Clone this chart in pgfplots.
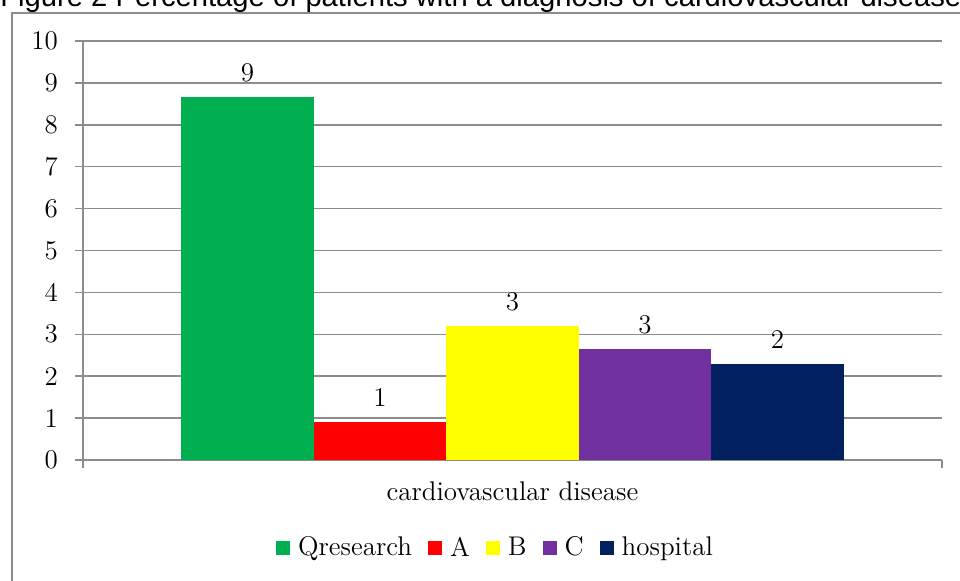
\documentclass[border=0pt]{standalone}
\usepackage{pgfplots}
\pgfplotsset{compat=1.18}
\usepackage{fontspec}
\newfontfamily\titlefont{Liberation Sans}
\definecolor{gridgray}{HTML}{8C8C8C}
\definecolor{qgreen}{HTML}{00B050}
\definecolor{ared}{HTML}{FF0000}
\definecolor{byellow}{HTML}{FFFF00}
\definecolor{cpurple}{HTML}{7030A0}
\definecolor{hnavy}{HTML}{002060}
\newcommand\chartfont{\fontsize{13.5}{16}\selectfont}

\begin{document}
\begin{tikzpicture}
% page = 960x581 px, 1px = 0.5pt, origin at the axis corner (83,460)
\useasboundingbox (-41.5pt,-60.5pt) rectangle (438.5pt,230pt);
\clip (-41.5pt,-60.5pt) rectangle (438.5pt,230pt);
\draw[gridgray, line width=0.75pt] (-35.5pt,-80pt) -- (-35.5pt,223.5pt) -- (460pt,223.5pt);
\node[anchor=base west, inner sep=0, font=\titlefont\fontsize{14.6}{17}\selectfont]
  at (-41.5pt,226.5pt) {Figure 2 Percentage of patients with a diagnosis of cardiovascular disease};
\begin{axis}[
  width=429.5pt, height=209.5pt, scale only axis,
  xmin=0, xmax=1, ymin=0, ymax=10,
  ybar=0pt, bar width=66.25pt,
  axis x line*=bottom, axis y line*=left,
  axis line style={gridgray, line width=0.75pt},
  ytick={0,1,...,10}, ymajorgrids,
  grid style={gridgray, line width=0.75pt},
  tick align=outside, major tick length=4pt,
  tick style={gridgray, line width=0.75pt},
  /pgf/number format/assume math mode=true,
  xtick={0,1}, xticklabels={},
  extra x ticks={0.5}, extra x tick labels={cardiovascular disease},
  extra x tick style={major tick length=0pt, xticklabel style={yshift=-7.5pt}},
  ticklabel style={font=\chartfont},
  yticklabel style={xshift=-5pt},
  nodes near coords={\pgfmathprintnumber[fixed,precision=0,assume math mode=true]{\pgfplotspointmeta}},
  nodes near coords style={font=\chartfont, yshift=4pt},
  legend style={at={(0.4814,-0.21)}, anchor=center, draw=none, fill=none,
    legend columns=-1, font=\chartfont,
    /tikz/every odd column/.append style={column sep=2pt},
    /tikz/every even column/.append style={column sep=6pt}},
  every axis plot post/.append style={
    legend image code/.code={\fill[##1] (0pt,-3.5pt) rectangle (7pt,3.5pt);}},
]
\addplot[fill=qgreen, draw=none] coordinates {(0.5,8.66)};
\addplot[fill=ared, draw=none] coordinates {(0.5,0.91)};
\addplot[fill=byellow, draw=none] coordinates {(0.5,3.20)};
\addplot[fill=cpurple, draw=none] coordinates {(0.5,2.65)};
\addplot[fill=hnavy, draw=none] coordinates {(0.5,2.29)};
\legend{Qresearch, A, B, C, hospital}
\end{axis}
\end{tikzpicture}
\end{document}
